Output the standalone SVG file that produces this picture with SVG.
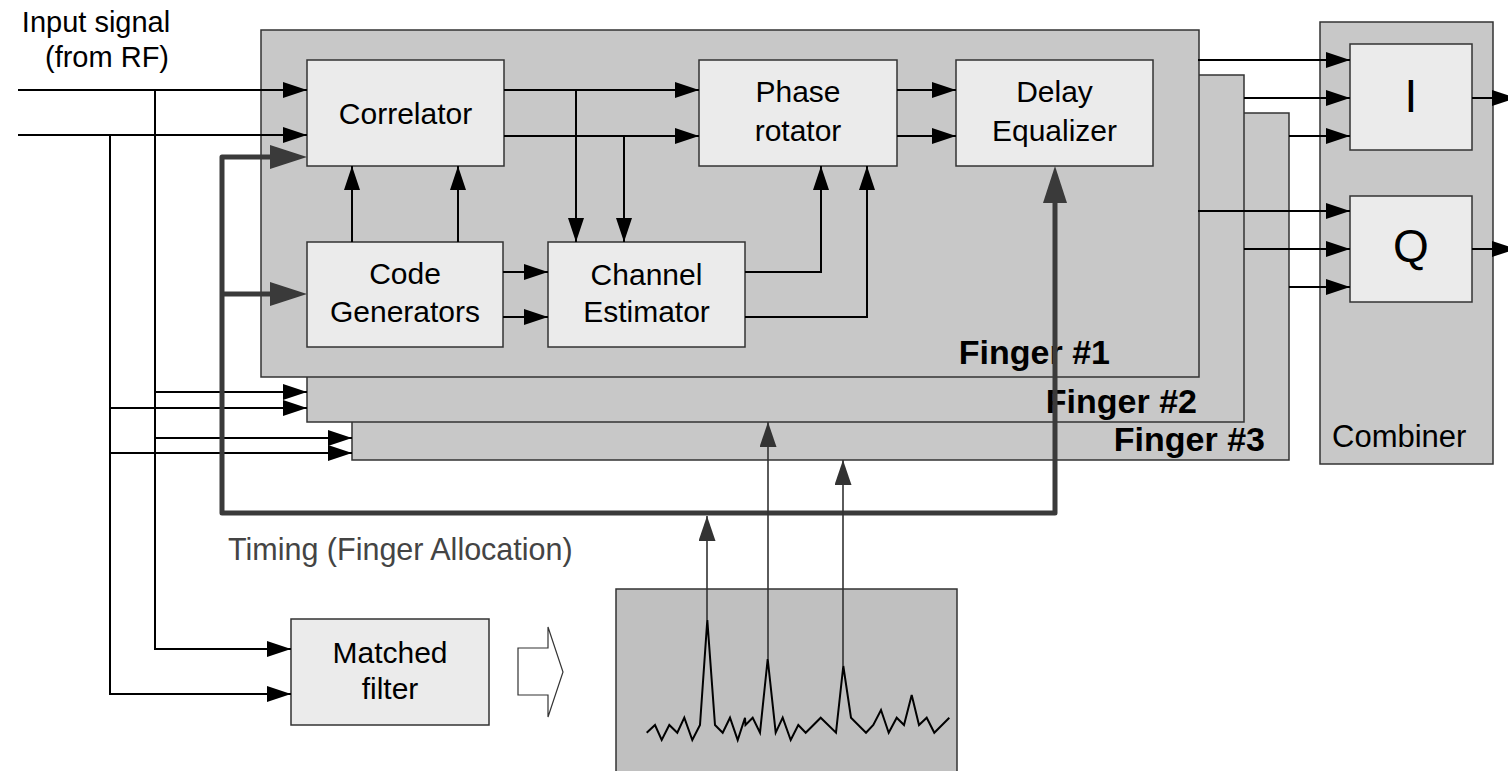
<svg xmlns="http://www.w3.org/2000/svg" width="1508" height="771" viewBox="0 0 1508 771">
<style>
.fg{fill:#c8c8c8;stroke:#333;stroke-width:1.5}
.bx{fill:#ebebeb;stroke:#333;stroke-width:1.5}
.t{font-family:"Liberation Sans",Arial,sans-serif;font-size:30px;fill:#000;text-anchor:middle}
.fl{font-family:"Liberation Sans",Arial,sans-serif;font-size:34px;font-weight:bold;fill:#000;text-anchor:end}
.c{fill:none;stroke:#000;stroke-width:2}
.g{fill:none;stroke:#333;stroke-width:1.6}
.k{fill:none;stroke:#3a3a3a;stroke-width:5;stroke-linejoin:round}
</style>
<defs>
<marker id="a" markerUnits="userSpaceOnUse" markerWidth="24" markerHeight="16" refX="24" refY="8" orient="auto"><path d="M0,0 L24,8 L0,16 z" fill="#000"/></marker>
<marker id="ag" markerUnits="userSpaceOnUse" markerWidth="25" markerHeight="17" refX="25" refY="8.5" orient="auto"><path d="M0,0 L25,8.5 L0,17 z" fill="#333"/></marker>
<marker id="ak" markerUnits="userSpaceOnUse" markerWidth="37" markerHeight="24" refX="0" refY="12" orient="auto-start-reverse"><path d="M0,0 L37,12 L0,24 z" fill="#3a3a3a"/></marker>
</defs>

<g id="finger3"><rect class="fg" x="352" y="113" width="937" height="347"/><text class="fl" x="1265" y="451">Finger #3</text></g>
<g id="finger2"><rect class="fg" x="307" y="75" width="937" height="347"/><text class="fl" x="1197" y="413">Finger #2</text></g>
<g id="finger1"><rect class="fg" x="261" y="30" width="938" height="347"/><text class="fl" x="1110" y="364">Finger #1</text></g>

<g id="correlator"><rect class="bx" x="307" y="60" width="197" height="106"/><text class="t" x="405.5" y="124">Correlator</text></g>
<g id="phase-rotator"><rect class="bx" x="699" y="60" width="198" height="106"/><text class="t" x="798" y="102">Phase</text><text class="t" x="798" y="141">rotator</text></g>
<g id="delay-equalizer"><rect class="bx" x="956" y="60" width="197" height="106"/><text class="t" x="1054.5" y="102">Delay</text><text class="t" x="1054.5" y="141">Equalizer</text></g>
<g id="code-generators"><rect class="bx" x="307" y="242" width="196" height="105"/><text class="t" x="405" y="284">Code</text><text class="t" x="405" y="322">Generators</text></g>
<g id="channel-estimator"><rect class="bx" x="548" y="242" width="197" height="105"/><text class="t" x="646.5" y="285">Channel</text><text class="t" x="646.5" y="322">Estimator</text></g>

<g id="combiner"><rect class="fg" x="1320" y="22" width="173" height="442"/><text class="t" x="1332" y="447" style="text-anchor:start;font-size:31px">Combiner</text></g>
<g id="I"><rect class="bx" x="1350" y="44" width="122" height="106"/><text class="t" x="1411" y="112" style="font-size:46px">I</text></g>
<g id="Q"><rect class="bx" x="1350" y="196" width="122" height="106"/><text class="t" x="1411" y="262" style="font-size:46px">Q</text></g>

<g id="matched-filter"><rect class="bx" x="291" y="619" width="198" height="106"/><text class="t" x="390" y="663">Matched</text><text class="t" x="390" y="699">filter</text></g>
<g id="big-arrow"><polygon points="518,648 548,648 548,627 563,672 548,717 548,695 518,695" fill="#fff" stroke="#333" stroke-width="1.2"/></g>

<g id="profile"><rect x="616" y="589" width="341" height="200" fill="#c0c0c0" stroke="#333" stroke-width="1.5"/>
<polyline fill="none" stroke="#000" stroke-width="2" points="646.7,732.7 655,725 661.7,740 669.3,725 677.3,732.7 684.3,717.7 692.3,740 700,725 707.3,620 715,725 722.7,732.7 730,717.7 737.7,740 745,717.7 745.5,725 752.7,717.7 760,732.7 767.7,659 775.7,732.7 782.7,717.7 790.7,740 798.3,725 805.7,732.7 820.7,717.7 836,732.7 843.3,666 851,717.7 866,732.7 873.3,725 881,710 888.7,732.7 896.7,717.7 904,725 911.7,695 919,725 926.7,717.7 934.3,732.7 949.3,717.7"/></g>

<g id="labels">
<text class="t" x="96" y="32" style="font-size:29px">Input signal</text>
<text class="t" x="107" y="67" style="font-size:29px">(from RF)</text>
<text class="t" x="228" y="560" style="text-anchor:start;fill:#444;font-size:30.5px">Timing (Finger Allocation)</text>
</g>

<g id="connectors">
<path class="c" d="M18,90 H307" marker-end="url(#a)"/>
<path class="c" d="M18,135 H307" marker-end="url(#a)"/>
<path class="c" d="M155,90 V649 H291" marker-end="url(#a)"/>
<path class="c" d="M110,135 V694 H291" marker-end="url(#a)"/>
<path class="c" d="M155,392 H307" marker-end="url(#a)"/>
<path class="c" d="M110,408 H307" marker-end="url(#a)"/>
<path class="c" d="M155,438 H352" marker-end="url(#a)"/>
<path class="c" d="M110,453 H352" marker-end="url(#a)"/>
<path class="c" d="M504,90 H699" marker-end="url(#a)"/>
<path class="c" d="M504,136 H699" marker-end="url(#a)"/>
<path class="c" d="M576,90 V242" marker-end="url(#a)"/>
<path class="c" d="M624,136 V242" marker-end="url(#a)"/>
<path class="c" d="M352,242 V166" marker-end="url(#a)"/>
<path class="c" d="M458,242 V166" marker-end="url(#a)"/>
<path class="c" d="M503,272 H548" marker-end="url(#a)"/>
<path class="c" d="M503,317 H548" marker-end="url(#a)"/>
<path class="c" d="M745,272 H821 V166" marker-end="url(#a)"/>
<path class="c" d="M745,317 H867 V166" marker-end="url(#a)"/>
<path class="c" d="M897,90 H956" marker-end="url(#a)"/>
<path class="c" d="M897,136 H956" marker-end="url(#a)"/>
<path class="c" d="M1198,60 H1350" marker-end="url(#a)"/>
<path class="c" d="M1244,98 H1350" marker-end="url(#a)"/>
<path class="c" d="M1289,136 H1350" marker-end="url(#a)"/>
<path class="c" d="M1198,211 H1350" marker-end="url(#a)"/>
<path class="c" d="M1244,249 H1350" marker-end="url(#a)"/>
<path class="c" d="M1289,287 H1350" marker-end="url(#a)"/>
<path class="c" d="M1472,98 H1516" marker-end="url(#a)"/>
<path class="c" d="M1472,249 H1516" marker-end="url(#a)"/>
<path class="k" d="M270,157 H222 V513 H1055 V203" marker-start="url(#ak)" marker-end="url(#ak)"/>
<path class="k" d="M222,294 H270" marker-end="url(#ak)"/>
<path class="g" d="M707,620 V516" marker-end="url(#ag)"/>
<path class="g" d="M768,659 V422" marker-end="url(#ag)"/>
<path class="g" d="M843,666 V460" marker-end="url(#ag)"/>
</g>
</svg>
